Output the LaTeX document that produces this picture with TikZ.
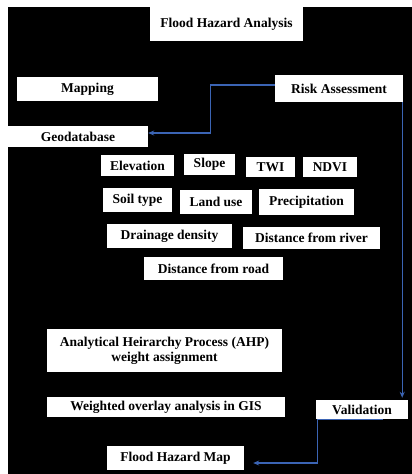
\documentclass[tikz,border=0pt]{standalone}
\usepackage{fontspec}
\setmainfont{Liberation Serif}
\usetikzlibrary{arrows.meta}
\usetikzlibrary{positioning}
\definecolor{linkblue}{RGB}{59,100,180}
\tikzset {
  % white label box on the black ground
  stage/.style = {
    draw = none,
    fill = white,
    inner sep = 0,
    align = center,
    font = \fontsize{13.5}{15}\selectfont\bfseries
  },
  % blue connector with a small filled tip
  link/.style = {
    draw = linkblue,
    line width = 1.3pt
  },
  flow/.style = {
    link,
    -{Stealth[length=6pt,width=5pt]}
  }
}

\begin{document}
\begin{tikzpicture}[x=1pt,y=-1pt]
    \useasboundingbox (0,0) rectangle (412,474);
    \fill[white] (0,0) rectangle (412,474);
    \fill[black] (8,7) rectangle (412,474);

    \node[stage, minimum width=153pt, minimum height=34pt] (analysis) at (226.5,24) {Flood Hazard Analysis};
    \node[stage, minimum width=141pt, minimum height=24pt] (mapping) at (87.5,89) {Mapping};
    \node[stage, minimum width=128pt, minimum height=27pt] (risk) at (339,88.5) {Risk Assessment};
    \node[stage, minimum width=140pt, minimum height=21pt] (geodb) at (78,136.5) {Geodatabase};

    % factor layers
    \node[stage, minimum width=73pt, minimum height=21pt] (elevation) at (137.5,165.5) {Elevation};
    \node[stage, minimum width=51pt, minimum height=21pt] (slope) at (209.5,164.5) {Slope};
    \node[stage, minimum width=49pt, minimum height=20pt] (twi) at (270.5,167) {TWI};
    \node[stage, minimum width=54pt, minimum height=20pt] (ndvi) at (330,167) {NDVI};
    \node[stage, minimum width=69pt, minimum height=24pt] (soil) at (137.5,200) {Soil type};
    \node[stage, minimum width=72pt, minimum height=24pt] (landuse) at (216,202) {Land use};
    \node[stage, minimum width=95pt, minimum height=26pt] (precip) at (306.5,202) {Precipitation};
    \node[stage, minimum width=125pt, minimum height=24pt] (drainage) at (169.5,236) {Drainage density};
    \node[stage, minimum width=137pt, minimum height=22pt] (river) at (311.5,238) {Distance from river};
    \node[stage, minimum width=139pt, minimum height=23pt] (road) at (213.5,268.5) {Distance from road};

    \node[stage, minimum width=235pt, minimum height=43pt] (ahp) at (164.5,350.5) {Analytical Heirarchy Process (AHP)\\weight assignment};
    \node[stage, minimum width=238pt, minimum height=20pt] (overlay) at (166,407) {Weighted overlay analysis in GIS};
    \node[stage, minimum width=92pt, minimum height=19pt] (valid) at (362,409.5) {Validation};
    \node[stage, minimum width=137pt, minimum height=24pt] (hazmap) at (175.5,458) {Flood Hazard Map};

    \draw[flow] ([yshift=3.5pt]risk.west) -- ++(-64,0) |- ([yshift=3.5pt]geodb.east);
    \draw[flow] ([xshift=-1pt]risk.south east) -- ([xshift=-6pt,yshift=2pt]valid.north east);
    \draw[link] ([xshift=2pt]valid.south west) -- ([xshift=-25pt]valid.south east);
    \draw[flow] ([xshift=2pt]valid.south west) |- ([xshift=9pt,yshift=-5pt]hazmap.east);
  \end{tikzpicture}
\end{document}
